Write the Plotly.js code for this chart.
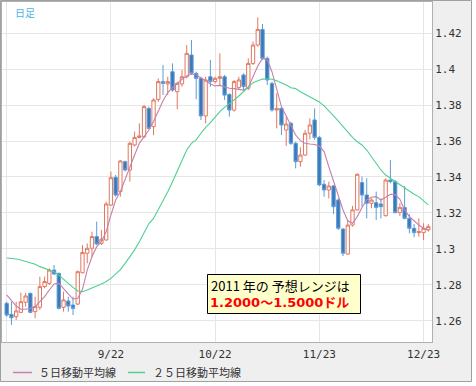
<!DOCTYPE html>
<html>
<head>
<meta charset="utf-8">
<script src="https://cdn.plot.ly/plotly-3.0.1.min.js"></script>
<style>
html,body{margin:0;padding:0;background:#fff;}
#chart{width:476px;height:386px;}
</style>
</head>
<body>
<div id="chart"></div>
<script>
// Daily candles (trading days), oldest first
const opens = [1.2698,1.2637,1.2624,1.2648,1.2704,1.2754,1.2652,1.2676,1.2791,1.2809,
1.2883,1.2865,1.2676,1.2711,1.2689,1.2694,1.2868,1.2976,1.3004,1.3069,
1.3031,1.3050,1.3244,1.3398,1.3319,1.3485,1.3439,1.3578,1.3620,1.3624,
1.3781,1.3680,1.3831,1.3930,1.3917,1.3985,1.3874,1.3917,1.3957,1.4078,
1.3976,1.3948,1.3739,1.3957,1.3930,1.3948,1.3957,1.3859,1.3772,1.3898,
1.3967,1.3893,1.4031,1.4133,1.4220,1.4059,1.3920,1.3772,1.3781,1.3661,
1.3698,1.3587,1.3485,1.3522,1.3643,1.3717,1.3620,1.3359,1.3328,1.3350,
1.3272,1.3111,1.2972,1.3133,1.3217,1.3369,1.3300,1.3254,1.3257,1.3250,
1.3185,1.3383,1.3374,1.3202,1.3231,1.3170,1.3115,1.3091,1.3091,1.3106];
const highs = [1.2707,1.2707,1.2707,1.2757,1.2757,1.2757,1.2735,1.2846,1.2846,1.2892,
1.2911,1.2868,1.2763,1.2735,1.2735,1.2880,1.3022,1.3031,1.3096,1.3152,
1.3106,1.3263,1.3430,1.3411,1.3494,1.3491,1.3596,1.3652,1.3698,1.3800,
1.3791,1.3837,1.3948,1.4022,1.3957,1.4031,1.3930,1.3994,1.4133,1.4161,
1.3985,1.3957,1.3957,1.4050,1.3957,1.4087,1.3967,1.3865,1.3939,1.3957,
1.3976,1.4059,1.4152,1.4287,1.4250,1.4069,1.3930,1.3865,1.3791,1.3735,
1.3707,1.3596,1.3565,1.3661,1.3726,1.3781,1.3628,1.3383,1.3374,1.3356,
1.3281,1.3115,1.3161,1.3239,1.3420,1.3402,1.3393,1.3281,1.3319,1.3281,
1.3393,1.3494,1.3383,1.3254,1.3350,1.3194,1.3139,1.3170,1.3143,1.3139];
const lows = [1.2624,1.2578,1.2606,1.2643,1.2680,1.2643,1.2615,1.2661,1.2782,1.2800,
1.2856,1.2665,1.2652,1.2652,1.2633,1.2689,1.2865,1.2920,1.2957,1.3022,
1.3022,1.3046,1.3239,1.3291,1.3291,1.3430,1.3374,1.3569,1.3615,1.3615,
1.3665,1.3633,1.3818,1.3855,1.3855,1.3874,1.3776,1.3902,1.3948,1.3967,
1.3831,1.3717,1.3698,1.3902,1.3920,1.3911,1.3828,1.3735,1.3763,1.3883,
1.3883,1.3883,1.4022,1.4124,1.4050,1.3911,1.3763,1.3670,1.3633,1.3572,
1.3578,1.3448,1.3457,1.3517,1.3609,1.3606,1.3350,1.3291,1.3281,1.3194,
1.3106,1.2961,1.2967,1.3124,1.3213,1.3235,1.3170,1.3226,1.3161,1.3170,
1.3180,1.3365,1.3198,1.3183,1.3165,1.3087,1.3065,1.3068,1.3050,1.3096];
const closes = [1.2633,1.2618,1.2656,1.2707,1.2739,1.2648,1.2680,1.2791,1.2819,1.2883,
1.2861,1.2670,1.2717,1.2683,1.2670,1.2874,1.2980,1.3004,1.3069,1.3028,
1.3054,1.3250,1.3396,1.3300,1.3489,1.3439,1.3587,1.3620,1.3628,1.3791,
1.3670,1.3828,1.3930,1.3920,1.3930,1.3883,1.3920,1.3957,1.4087,1.3976,
1.3948,1.3739,1.3939,1.3930,1.3948,1.3957,1.3855,1.3772,1.3930,1.3939,
1.3902,1.4031,1.4133,1.4220,1.4059,1.3939,1.3772,1.3781,1.3689,1.3694,
1.3587,1.3485,1.3522,1.3643,1.3689,1.3620,1.3356,1.3328,1.3350,1.3235,
1.3115,1.2976,1.3133,1.3217,1.3415,1.3300,1.3254,1.3272,1.3231,1.3235,
1.3383,1.3374,1.3202,1.3231,1.3170,1.3115,1.3091,1.3096,1.3115,1.3124];

// 5-day moving average
const ma5 = [1.2745,1.2717,1.2683,1.2665,1.2665,1.2671,1.2680,1.2708,1.2735,1.2772,
1.2806,1.2809,1.2782,1.2750,1.2722,1.2726,1.2776,1.2883,1.2957,1.3013,
1.3041,1.3096,1.3189,1.3272,1.3319,1.3383,1.3448,1.3522,1.3587,1.3624,
1.3661,1.3708,1.3763,1.3824,1.3869,1.3898,1.3917,1.3943,1.3961,1.3972,
1.3967,1.3952,1.3935,1.3917,1.3906,1.3909,1.3902,1.3893,1.3891,1.3889,
1.3883,1.3898,1.3957,1.4017,1.4059,1.4050,1.3985,1.3883,1.3791,1.3739,
1.3689,1.3633,1.3602,1.3587,1.3583,1.3581,1.3572,1.3541,1.3457,1.3374,
1.3291,1.3217,1.3157,1.3143,1.3180,1.3231,1.3272,1.3287,1.3291,1.3272,
1.3287,1.3304,1.3302,1.3276,1.3217,1.3180,1.3157,1.3133,1.3115,1.3106];

// 25-day moving average
const ma25 = [1.2950,1.2948,1.2944,1.2939,1.2932,1.2924,1.2915,1.2902,1.2892,1.2883,
1.2874,1.2855,1.2831,1.2809,1.2787,1.2767,1.2763,1.2772,1.2781,1.2794,
1.2806,1.2819,1.2837,1.2860,1.2885,1.2920,1.2955,1.2995,1.3040,1.3090,
1.3140,1.3170,1.3217,1.3268,1.3318,1.3374,1.3433,1.3494,1.3550,1.3587,
1.3606,1.3643,1.3676,1.3702,1.3735,1.3763,1.3787,1.3806,1.3828,1.3850,
1.3874,1.3898,1.3924,1.3935,1.3944,1.3946,1.3943,1.3935,1.3924,1.3911,
1.3896,1.3891,1.3874,1.3859,1.3846,1.3831,1.3817,1.3795,1.3769,1.3739,
1.3711,1.3680,1.3652,1.3620,1.3596,1.3578,1.3550,1.3513,1.3476,1.3439,
1.3411,1.3393,1.3376,1.3356,1.3335,1.3318,1.3304,1.3291,1.3269,1.3245];

// Axis ticks
const xTickVals = [0, 22, 44, 66, 88];
const xTickText = ['', '9/22', '10/22', '11/23', '12/23'];
const yTickVals = [1.26, 1.28, 1.30, 1.32, 1.34, 1.36, 1.38, 1.40, 1.42];
const yTickText = ['1.26', '1.28', '1.3', '1.32', '1.34', '1.36', '1.38', '1.4', '1.42'];

const legendNames = ['５日移動平均線', '２５日移動平均線'];
const noteLine1 = '2011 年の 予想レンジは';
const noteLine2 = '1.2000～1.5000ドル';
const periodLabel = '日足';

const idx = closes.map((_, i) => i);

// pixel -> paper helpers (plot area: x 2..432, y 2..342)
const L = 2, R = 44, T = 2, B = 44, W = 476, H = 386;
const PW = W - L - R, PH = H - T - B;
const px = v => (v - L) / PW;
const py = v => (H - B - v) / PH;

const COL5 = '#c77fac';
const COL25 = '#4fcf92';

const traces = [
  {
    type: 'candlestick', x: idx, open: opens, high: highs, low: lows, close: closes,
    increasing: {line: {color: '#e2775f', width: 1}, fillcolor: '#ffffff'},
    decreasing: {line: {color: '#5d9bd6', width: 1}, fillcolor: '#3a78b8'},
    whiskerwidth: 0, showlegend: false, hoverinfo: 'skip'
  },
  {type: 'scatter', mode: 'lines', x: idx, y: ma5, line: {color: COL5, width: 1.1}, showlegend: false, hoverinfo: 'skip'},
  {type: 'scatter', mode: 'lines', x: idx, y: ma25, line: {color: COL25, width: 1.1}, showlegend: false, hoverinfo: 'skip'}
];

const tickFont = {family: 'DejaVu Sans Mono, monospace', size: 11, color: '#333'};

const layout = {
  width: W, height: H,
  margin: {l: L, r: R, t: T, b: B, pad: 0},
  paper_bgcolor: '#efefef',
  plot_bgcolor: '#ffffff',
  showlegend: false,
  boxgap: 0.3, boxgroupgap: 0,
  xaxis: {
    range: [-0.99, 89.78], tickvals: xTickVals, ticktext: xTickText,
    showgrid: true, gridcolor: '#e6e6e6', gridwidth: 1, zeroline: false,
    showline: true, linecolor: '#b0b0b0', linewidth: 1, mirror: true,
    ticks: '', ticklabelstandoff: 2, tickfont: tickFont, rangeslider: {visible: false}, fixedrange: true
  },
  yaxis: {
    side: 'right', range: [1.24833, 1.43722], tickvals: yTickVals, ticktext: yTickText,
    showgrid: true, gridcolor: '#e6e6e6', gridwidth: 1, zeroline: false,
    showline: true, linecolor: '#b0b0b0', linewidth: 1, mirror: true,
    ticks: '', tickfont: tickFont, fixedrange: true
  },
  shapes: [
    // white strip outside the frame
    {type: 'rect', xref: 'paper', yref: 'paper', x0: px(472), x1: px(478), y0: py(388), y1: py(-2), fillcolor: '#ffffff', line: {width: 0}},
    {type: 'rect', xref: 'paper', yref: 'paper', x0: px(-2), x1: px(478), y0: py(388), y1: py(382), fillcolor: '#ffffff', line: {width: 0}},
    // outer frame
    {type: 'rect', xref: 'paper', yref: 'paper', x0: px(0.5), x1: px(471.5), y0: py(381.5), y1: py(0.5), line: {color: '#a0a0a0', width: 1}},
    // note box
    {type: 'rect', xref: 'paper', yref: 'paper', x0: px(207.5), x1: px(360.5), y0: py(313.5), y1: py(274.5), fillcolor: '#ffffcc', line: {color: '#000000', width: 1}},
    // legend samples
    {type: 'line', xref: 'paper', yref: 'paper', x0: px(13), x1: px(32), y0: py(372.5), y1: py(372.5), line: {color: COL5, width: 1.5}},
    {type: 'line', xref: 'paper', yref: 'paper', x0: px(128), x1: px(145), y0: py(372.5), y1: py(372.5), line: {color: COL25, width: 1.5}}
  ],
  annotations: [
    {xref: 'paper', yref: 'paper', x: px(13), y: py(12), xanchor: 'left', yanchor: 'middle', showarrow: false,
     text: periodLabel, font: {family: 'Noto Sans CJK JP', size: 10, color: '#4db6e6'}},
    {xref: 'paper', yref: 'paper', x: px(209), y: py(285), xanchor: 'left', yanchor: 'middle', showarrow: false,
     text: noteLine1, font: {family: 'Noto Sans CJK JP', size: 13, color: '#000'}},
    {xref: 'paper', yref: 'paper', x: px(208), y: py(302), xanchor: 'left', yanchor: 'middle', showarrow: false,
     text: '<b>' + noteLine2 + '</b>', font: {family: 'DejaVu Sans, Noto Sans CJK JP', size: 13, color: '#ff0000'}},
    {xref: 'paper', yref: 'paper', x: px(37), y: py(372.5), xanchor: 'left', yanchor: 'middle', showarrow: false,
     text: legendNames[0], font: {family: 'Noto Sans CJK JP', size: 11, color: '#333'}},
    {xref: 'paper', yref: 'paper', x: px(151), y: py(372.5), xanchor: 'left', yanchor: 'middle', showarrow: false,
     text: legendNames[1], font: {family: 'Noto Sans CJK JP', size: 11, color: '#333'}}
  ]
};

Plotly.newPlot('chart', traces, layout, {displayModeBar: false, staticPlot: true});
</script>
</body>
</html>
